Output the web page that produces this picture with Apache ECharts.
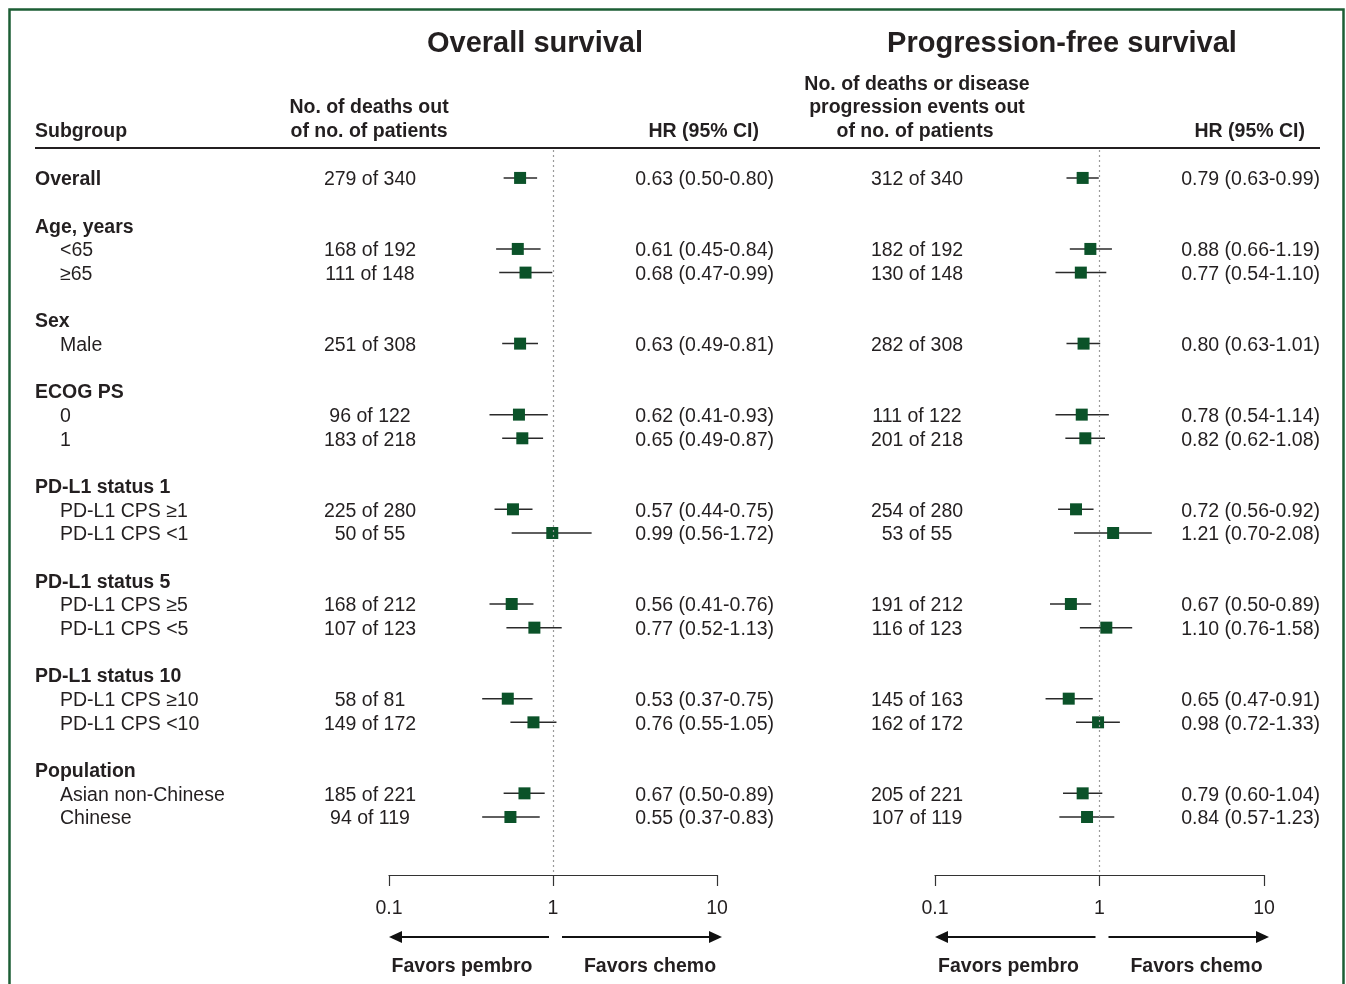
<!DOCTYPE html>
<html>
<head>
<meta charset="utf-8">
<script src="https://cdn.jsdelivr.net/npm/echarts@6/dist/echarts.min.js"></script>
<style>html,body{margin:0;padding:0;background:#fff;}#c{width:1346px;height:984px;}</style>
</head>
<body>
<div id="c"></div>
<script>
// ---------- DATA ----------
const rowLabels = ['Overall', '', 'Age, years', '<65', '\u226565', '', 'Sex', 'Male', '', 'ECOG PS', '0', '1', '',
  'PD-L1 status 1', 'PD-L1 CPS \u22651', 'PD-L1 CPS <1', '', 'PD-L1 status 5', 'PD-L1 CPS \u22655', 'PD-L1 CPS <5', '',
  'PD-L1 status 10', 'PD-L1 CPS \u226510', 'PD-L1 CPS <10', '', 'Population', 'Asian non-Chinese', 'Chinese'];
const headerRows = [0, 2, 6, 9, 13, 17, 21, 25];
const dataRows = [0, 3, 4, 7, 10, 11, 14, 15, 18, 19, 22, 23, 26, 27];

const osCounts = ['279 of 340', '168 of 192', '111 of 148', '251 of 308', '96 of 122', '183 of 218', '225 of 280',
  '50 of 55', '168 of 212', '107 of 123', '58 of 81', '149 of 172', '185 of 221', '94 of 119'];
const osHR   = [0.63, 0.61, 0.68, 0.63, 0.62, 0.65, 0.57, 0.99, 0.56, 0.77, 0.53, 0.76, 0.67, 0.55];
const osLow  = [0.50, 0.45, 0.47, 0.49, 0.41, 0.49, 0.44, 0.56, 0.41, 0.52, 0.37, 0.55, 0.50, 0.37];
const osHigh = [0.80, 0.84, 0.99, 0.81, 0.93, 0.87, 0.75, 1.72, 0.76, 1.13, 0.75, 1.05, 0.89, 0.83];

const pfsCounts = ['312 of 340', '182 of 192', '130 of 148', '282 of 308', '111 of 122', '201 of 218', '254 of 280',
  '53 of 55', '191 of 212', '116 of 123', '145 of 163', '162 of 172', '205 of 221', '107 of 119'];
const pfsHR   = [0.79, 0.88, 0.77, 0.80, 0.78, 0.82, 0.72, 1.21, 0.67, 1.10, 0.65, 0.98, 0.79, 0.84];
const pfsLow  = [0.63, 0.66, 0.54, 0.63, 0.54, 0.62, 0.56, 0.70, 0.50, 0.76, 0.47, 0.72, 0.60, 0.57];
const pfsHigh = [0.99, 1.19, 1.10, 1.01, 1.14, 1.08, 0.92, 2.08, 0.89, 1.58, 0.91, 1.33, 1.04, 1.23];

const axisTicks = [0.1, 1, 10];
const panelTitles = ['Overall survival', 'Progression-free survival'];
const favorLabels = ['Favors pembro', 'Favors chemo'];

// ---------- STYLE / LAYOUT ----------
const FONT = "'Liberation Sans', Arial, Helvetica, sans-serif";
const TXT = '#231f20';
const FS = 19.5;
const GREEN = '#0b5229';
const TOP = 150, BOTTOM = 109;
const ROW_MIN = -1.18, ROW_MAX = 29.45;
const DY = 2; // baseline nudge for text

const fmt = v => v.toFixed(2);
const hrText = (h, l, u) => fmt(h) + ' (' + fmt(l) + '-' + fmt(u) + ')';

function textSeries(items, align, bold) {
  return {
    type: 'scatter', xAxisIndex: 0, yAxisIndex: 0, symbolSize: 0, silent: true,
    itemStyle: { color: 'rgba(0,0,0,0)', opacity: 1 },
    label: {
      show: true, position: 'inside', align: align, verticalAlign: 'middle', offset: [0, DY],
      fontFamily: FONT, fontSize: FS, color: TXT, fontWeight: bold ? 'bold' : 'normal',
      formatter: p => p.data.t
    },
    data: items
  };
}

const labelItemsBold = [], labelItemsNorm = [];
rowLabels.forEach((s, i) => {
  if (!s) return;
  if (headerRows.includes(i)) labelItemsBold.push({ value: [35, i], t: s });
  else labelItemsNorm.push({ value: [60, i], t: s });
});
const osCountItems = dataRows.map((r, k) => ({ value: [370, r], t: osCounts[k] }));
const osHRItems = dataRows.map((r, k) => ({ value: [774, r], t: hrText(osHR[k], osLow[k], osHigh[k]) }));
const pfsCountItems = dataRows.map((r, k) => ({ value: [917, r], t: pfsCounts[k] }));
const pfsHRItems = dataRows.map((r, k) => ({ value: [1320, r], t: hrText(pfsHR[k], pfsLow[k], pfsHigh[k]) }));

function forestAxis(gi) {
  return {
    type: 'log', logBase: 10, min: 0.1, max: 10, gridIndex: gi, position: 'bottom',
    axisLine: { show: true, onZero: false, lineStyle: { color: '#333', width: 1.2 } },
    axisTick: { show: true, length: 11, lineStyle: { color: '#333', width: 1.2 } },
    minorTick: { show: false }, splitLine: { show: false },
    axisLabel: { fontFamily: FONT, fontSize: FS, color: TXT, margin: 24, formatter: v => String(+(+v).toPrecision(3)) }
  };
}
function rowAxis(gi) {
  return { type: 'value', gridIndex: gi, inverse: true, min: ROW_MIN, max: ROW_MAX, show: false };
}

function ciSeries(axisIdx, lo, hi) {
  return {
    type: 'custom', xAxisIndex: axisIdx, yAxisIndex: axisIdx, silent: true, z: 3,
    data: dataRows.map((r, k) => [lo[k], hi[k], r]),
    encode: { x: [0, 1], y: 2 },
    renderItem: (params, api) => {
      const a = api.coord([api.value(0), api.value(2)]);
      const b = api.coord([api.value(1), api.value(2)]);
      return { type: 'line', shape: { x1: a[0], y1: a[1], x2: b[0], y2: b[1] },
        style: { stroke: '#2a2a2a', lineWidth: 1.5 } };
    }
  };
}
function pointSeries(axisIdx, hr) {
  return {
    type: 'scatter', xAxisIndex: axisIdx, yAxisIndex: axisIdx, symbol: 'rect', symbolSize: 12, z: 4, silent: true,
    itemStyle: { color: GREEN, opacity: 1 },
    data: dataRows.map((r, k) => [hr[k], r]),
    markLine: {
      silent: true, symbol: 'none', label: { show: false },
      lineStyle: { type: [2, 3], color: '#9a9a9a', width: 1.2 },
      data: [{ xAxis: 1 }]
    }
  };
}

const chart = echarts.init(document.getElementById('c'), null, { renderer: 'canvas' });
chart.setOption({
  backgroundColor: '#fff',
  animation: false,
  grid: [
    { left: 0, right: 0, top: TOP, bottom: BOTTOM },
    { left: 389, width: 328, top: TOP, bottom: BOTTOM },
    { left: 935, width: 329, top: TOP, bottom: BOTTOM }
  ],
  xAxis: [
    { type: 'value', gridIndex: 0, min: 0, max: 1346, show: false },
    forestAxis(1), forestAxis(2)
  ],
  yAxis: [rowAxis(0), rowAxis(1), rowAxis(2)],
  series: [
    textSeries(labelItemsBold, 'left', true),
    textSeries(labelItemsNorm, 'left', false),
    textSeries(osCountItems, 'center', false),
    textSeries(osHRItems, 'right', false),
    textSeries(pfsCountItems, 'center', false),
    textSeries(pfsHRItems, 'right', false),
    ciSeries(1, osLow, osHigh), pointSeries(1, osHR),
    ciSeries(2, pfsLow, pfsHigh), pointSeries(2, pfsHR)
  ]
});

// ---------- DECORATIONS (headers, arrows) ----------
const g = [];
const txt = (x, y, s, align, size, bold) => g.push({
  type: 'text', x: x, y: y, silent: true,
  style: { text: s, fill: TXT, font: (bold ? 'bold ' : '') + size + 'px ' + FONT, textAlign: align, textVerticalAlign: 'middle' }
});
g.push({ type: 'rect', shape: { x: 9.5, y: 9.5, width: 1334, height: 1000 }, silent: true,
  style: { fill: 'none', stroke: '#1c5e35', lineWidth: 2.5 } });
txt(535, 44, panelTitles[0], 'center', 29, true);
txt(1062, 44, panelTitles[1], 'center', 29, true);
txt(35, 132, 'Subgroup', 'left', FS, true);
txt(369, 108, 'No. of deaths out', 'center', FS, true);
txt(369, 132, 'of no. of patients', 'center', FS, true);
txt(759, 132, 'HR (95% CI)', 'right', FS, true);
txt(917, 85, 'No. of deaths or disease', 'center', FS, true);
txt(917, 108, 'progression events out', 'center', FS, true);
txt(915, 132, 'of no. of patients', 'center', FS, true);
txt(1305, 132, 'HR (95% CI)', 'right', FS, true);
g.push({ type: 'line', shape: { x1: 35, y1: 148, x2: 1320, y2: 148 }, silent: true,
  style: { stroke: '#231f20', lineWidth: 2 } });

[1, 2].forEach(ai => {
  const px = v => chart.convertToPixel({ xAxisIndex: ai }, v);
  const x0 = px(axisTicks[0]), x1 = px(axisTicks[1]), x2 = px(axisTicks[2]);
  const y = 937;
  g.push({ type: 'line', silent: true, shape: { x1: x1 - 4, y1: y, x2: x0 + 8, y2: y }, style: { stroke: '#111', lineWidth: 2 } });
  g.push({ type: 'polygon', silent: true, shape: { points: [[x0, y], [x0 + 13, y - 6], [x0 + 13, y + 6]] }, style: { fill: '#111' } });
  g.push({ type: 'line', silent: true, shape: { x1: x1 + 9, y1: y, x2: x2 - 3, y2: y }, style: { stroke: '#111', lineWidth: 2 } });
  g.push({ type: 'polygon', silent: true, shape: { points: [[x2 + 5, y], [x2 - 8, y - 6], [x2 - 8, y + 6]] }, style: { fill: '#111' } });
  txt(x1 - 91, 967, favorLabels[0], 'center', FS, true);
  txt(x1 + 97, 967, favorLabels[1], 'center', FS, true);
});
chart.setOption({ graphic: g });
</script>
</body>
</html>
